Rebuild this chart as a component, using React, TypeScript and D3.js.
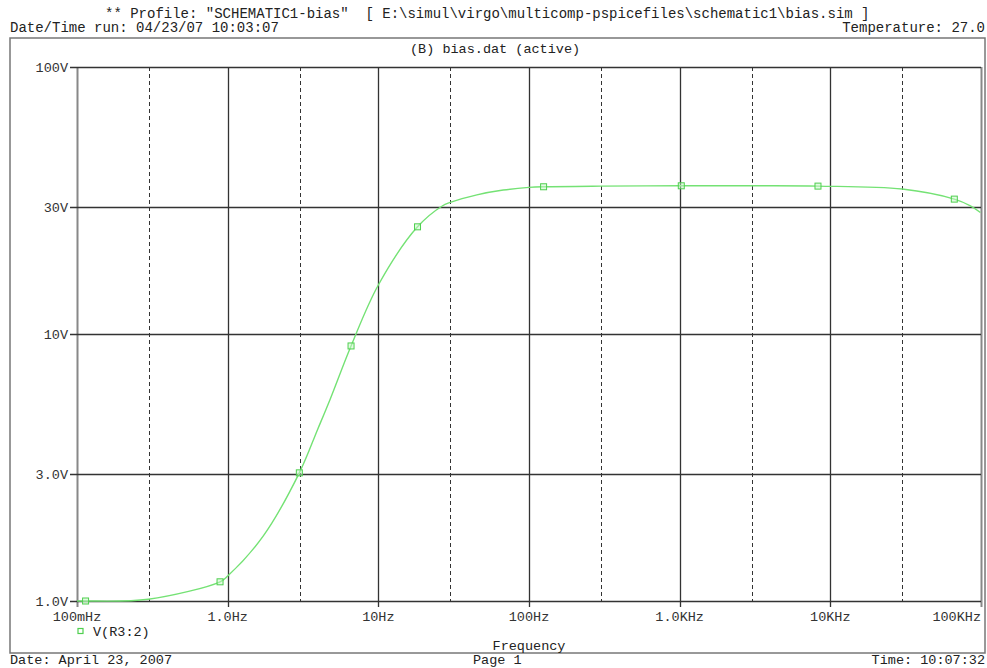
import React, { useEffect, useRef } from 'react';
import * as d3 from 'd3';

// curve samples (Hz, V)
const freqHz = [0.1, 0.114, 0.297, 0.89, 1.0, 1.72, 2.99, 3.96, 4.79, 6.59, 10, 18.2, 26.4, 30, 45.1, 67.5, 100, 125, 300, 1025, 3000, 8280, 30000, 66500, 85100, 99100];
const volts = [1.0, 1.0, 1.015, 1.18, 1.24, 1.75, 3.02, 4.4, 5.7, 9.02, 15.26, 25.2, 30.1, 31.1, 33.2, 34.6, 35.4, 35.6, 35.8, 35.9, 35.9, 35.8, 34.9, 32.0, 30.2, 28.5];

// trace symbols
const markerHz = [0.114, 0.89, 2.99, 6.59, 18.2, 125, 1025, 8280, 66500];
const markerV = [1.0, 1.18, 3.02, 9.02, 25.2, 35.6, 35.9, 35.8, 32.0];

const xTicks = [0.1, 1, 10, 100, 1000, 10000, 100000];
const xTickLabels = ['100mHz', '1.0Hz', '10Hz', '100Hz', '1.0KHz', '10KHz', '100KHz'];
const xMinor = [0.3, 3, 30, 300, 3000, 30000];
const yTicks = [1, 3, 10, 30, 100];
const yTickLabels = ['1.0V', '3.0V', '10V', '30V', '100V'];

const FONT = '"Liberation Mono", "Courier New", monospace';
const TRACE = '#74e274';

const App = () => {
    const svgRef = useRef<SVGSVGElement>(null);

    useEffect(() => {
        const svg = d3.select(svgRef.current);
        svg.selectAll('*').remove();

        const W = 987, H = 668;
        const plot = {left: 77, right: 981, top: 67, bottom: 601};

        const x = d3.scaleLog().domain([0.1, 100000]).range([plot.left, plot.right]);
        const y = d3.scaleLog().domain([1, 100]).range([plot.bottom, plot.top]);

        svg.append('rect').attr('width', W).attr('height', H).attr('fill', 'white');

        const txt = (tx, ty, s, anchor = 'start', size = 14) =>
            svg.append('text')
                .attr('x', tx).attr('y', ty)
                .attr('text-anchor', anchor)
                .attr('font-family', FONT)
                .attr('font-size', size)
                .attr('fill', '#222')
                .style('white-space', 'pre')
                .text(s);

        // header / footer
        txt(105, 18, '** Profile: "SCHEMATIC1-bias"  [ E:\\simul\\virgo\\multicomp-pspicefiles\\schematic1\\bias.sim ]');
        txt(10, 32, 'Date/Time run: 04/23/07 10:03:07');
        txt(985, 32, 'Temperature: 27.0', 'end');
        txt(410, 53, '(B) bias.dat (active)', 'start', 13.5);
        txt(10, 664, 'Date: April 23, 2007', 'start', 13.5);
        txt(473, 664, 'Page 1', 'start', 13.5);
        txt(985, 664, 'Time: 10:07:32', 'end', 13.5);

        // outer frame
        svg.append('rect')
            .attr('x', 10).attr('y', 38)
            .attr('width', 975).attr('height', 615)
            .attr('fill', 'none')
            .attr('stroke', '#777')
            .attr('stroke-width', 1.5);

        const g = svg.append('g');

        // dashed verticals
        g.selectAll('.minor')
            .data(xMinor)
            .enter()
            .append('line')
            .attr('x1', (d) => Math.round(x(d)) + 0.5).attr('x2', (d) => Math.round(x(d)) + 0.5)
            .attr('y1', plot.top).attr('y2', plot.bottom)
            .attr('stroke', '#333')
            .attr('stroke-dasharray', '4,3');

        // decade verticals, with small ticks below the axis
        g.selectAll('.major')
            .data(xTicks)
            .enter()
            .append('line')
            .attr('x1', (d) => Math.round(x(d)) + 0.5).attr('x2', (d) => Math.round(x(d)) + 0.5)
            .attr('y1', plot.top).attr('y2', plot.bottom + 6)
            .attr('stroke', (d, i) => (i === 0 || i === xTicks.length - 1) ? '#888' : '#333')
            .attr('stroke-width', (d, i) => (i === 0 || i === xTicks.length - 1) ? 2 : 1.3);

        // horizontal grid
        g.selectAll('.hgrid')
            .data(yTicks)
            .enter()
            .append('line')
            .attr('x1', plot.left - 7).attr('x2', plot.right)
            .attr('y1', (d) => Math.round(y(d)) + 0.5).attr('y2', (d) => Math.round(y(d)) + 0.5)
            .attr('stroke', '#333')
            .attr('stroke-width', 1.3);

        // tick labels
        g.selectAll('.ylab')
            .data(yTicks)
            .enter()
            .append('text')
            .attr('x', plot.left - 9)
            .attr('y', (d) => y(d) + 5)
            .attr('text-anchor', 'end')
            .attr('font-family', FONT)
            .attr('font-size', 13.5)
            .attr('fill', '#333')
            .text((d, i) => yTickLabels[i]);

        g.selectAll('.xlab')
            .data(xTicks)
            .enter()
            .append('text')
            .attr('x', (d) => x(d))
            .attr('y', 621)
            .attr('text-anchor', (d, i) => i === xTicks.length - 1 ? 'end' : 'middle')
            .attr('font-family', FONT)
            .attr('font-size', 13.5)
            .attr('fill', '#333')
            .text((d, i) => xTickLabels[i]);

        txt((plot.left + plot.right) / 2, 650, 'Frequency', 'middle', 13.5);

        // trace
        svg.append('clipPath').attr('id', 'plotclip')
            .append('rect')
            .attr('x', plot.left).attr('y', plot.top)
            .attr('width', plot.right - plot.left).attr('height', plot.bottom - plot.top + 2);

        const lineGenerator = d3.line<number>()
            .curve(d3.curveCatmullRom.alpha(0.5))
            .x((d, i) => x(freqHz[i]))
            .y((d) => y(d));

        svg.append('path')
            .attr('clip-path', 'url(#plotclip)')
            .attr('d', lineGenerator(volts))
            .attr('fill', 'none')
            .attr('stroke', TRACE)
            .attr('stroke-width', 1.4);

        svg.selectAll('.mark')
            .data(markerV)
            .enter()
            .append('rect')
            .attr('x', (d, i) => x(markerHz[i]) - 3)
            .attr('y', (d) => y(d) - 3)
            .attr('width', 6).attr('height', 6)
            .attr('fill', '#c8f5c8')
            .attr('fill-opacity', 0.5)
            .attr('stroke', '#4fcf4f')
            .attr('stroke-width', 1);

        // legend
        svg.append('rect')
            .attr('x', 78).attr('y', 628.5)
            .attr('width', 5).attr('height', 5)
            .attr('fill', 'none')
            .attr('stroke', '#4fcf4f')
            .attr('stroke-width', 1.2);
        txt(93, 636, 'V(R3:2)', 'start', 13.5);
    }, []);

    return (
        <svg ref={svgRef} width={987} height={668}
             style={{position: 'absolute', left: 0, top: 0, display: 'block'}}></svg>
    );
};

export default App;
